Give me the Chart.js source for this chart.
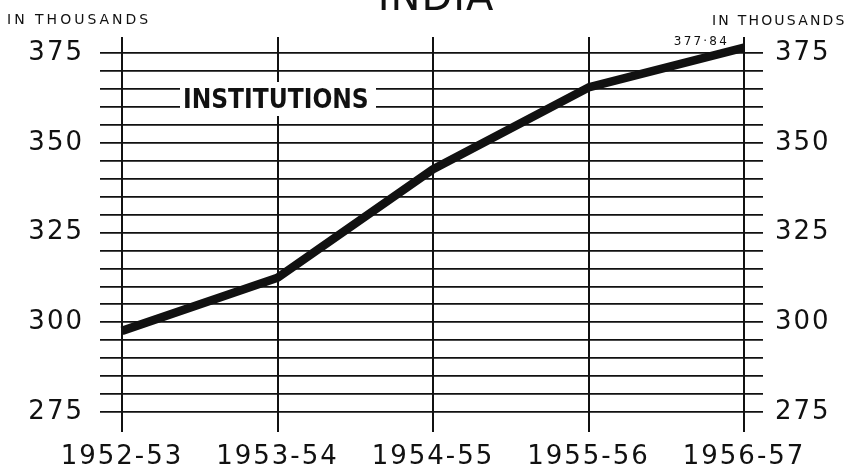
<!DOCTYPE html>
<html>
<head>
<meta charset="utf-8">
<title>India - Institutions</title>
<script src="https://cdn.jsdelivr.net/npm/chart.js@4.4.1/dist/chart.umd.min.js"></script>
<style>
  html, body { margin: 0; padding: 0; background: #fff; }
  #wrap { width: 854px; height: 467px; position: relative; }
</style>
</head>
<body>
<div id="wrap"><canvas id="chart"></canvas></div>
<script>
// years and number of institutions (in thousands)
const periods = ['1952-53', '1953-54', '1954-55', '1955-56', '1956-57'];
const institutions = [297.6, 312.4, 342.6, 365.4, 376.5];
const yMin = 275;
const yMax = 375;
const yStep = 5;
const yLabelStep = 25;
const lastValueLabel = '377·84';

const ink = '#111';
const tickFont = { family: 'DejaVu Sans', size: 26 };

const decor = {
    id: 'decor',
    beforeDraw(chart) {
        // the printed tick labels are letter spaced
        chart.ctx.letterSpacing = '2px';
    },
    beforeDatasetsDraw(chart) {
        const ctx = chart.ctx;
        const xs = chart.scales.x;
        const area = chart.chartArea;
        ctx.save();

        // vertical rules, running past the grid at top and bottom
        ctx.strokeStyle = ink;
        ctx.lineWidth = 2;
        periods.forEach(function(p, i) {
            const x = Math.round(xs.getPixelForValue(i));
            ctx.beginPath();
            ctx.moveTo(x, area.top - 16);
            ctx.lineTo(x, area.bottom + 20);
            ctx.stroke();
        });

        // series name on a white patch
        ctx.fillStyle = '#fff';
        ctx.fillRect(180, 82, 196, 34);
        ctx.fillStyle = ink;
        ctx.letterSpacing = '0px';
        ctx.font = 'bold 26px "Liberation Sans Narrow", "DejaVu Sans Condensed", sans-serif';
        ctx.textAlign = 'left';
        ctx.textBaseline = 'alphabetic';
        ctx.fillText('INSTITUTIONS', 183, 108);

        // title, cut off at the top of the sheet
        ctx.letterSpacing = '1px';
        ctx.font = '40px "DejaVu Sans", sans-serif';
        ctx.textAlign = 'center';
        ctx.fillText('INDIA', 436, 10);

        // unit captions
        ctx.font = '14px "DejaVu Sans", sans-serif';
        ctx.textAlign = 'left';
        ctx.letterSpacing = '3px';
        ctx.fillText('IN THOUSANDS', 7, 24);
        ctx.letterSpacing = '2.2px';
        ctx.fillText('IN THOUSANDS', 712, 25);

        // value of the last point
        ctx.font = '12px "DejaVu Sans", sans-serif';
        ctx.letterSpacing = '2.2px';
        ctx.textAlign = 'right';
        ctx.fillText(lastValueLabel, 729, 45);

        ctx.restore();
    }
};

function yTickLabel(v) {
    return v % yLabelStep === 0 ? String(v) : '';
}

const ctx = document.getElementById('chart').getContext('2d');
new Chart(ctx, {
    type: 'line',
    data: {
        datasets: [{
            data: institutions.map(function(v, i) { return { x: i, y: v }; }),
            borderColor: ink,
            borderWidth: 8.5,
            borderCapStyle: 'butt',
            borderJoinStyle: 'round',
            pointRadius: 0,
            tension: 0,
            clip: false
        }]
    },
    options: {
        responsive: true,
        maintainAspectRatio: false,
        animation: false,
        layout: { padding: { top: 53, left: 0, right: 0, bottom: 0 } },
        plugins: {
            legend: { display: false },
            tooltip: { enabled: false }
        },
        scales: {
            x: {
                type: 'linear',
                min: -0.1415,
                max: 4.122,
                afterBuildTicks: function(scale) {
                    scale.ticks = periods.map(function(p, i) { return { value: i }; });
                },
                afterFit: function(scale) { scale.height = 55; },
                grid: { display: false, drawTicks: false, tickLength: 0 },
                border: { display: false },
                ticks: {
                    autoSkip: false,
                    maxRotation: 0,
                    padding: 30,
                    color: ink,
                    font: tickFont,
                    callback: function(v) { return periods[v]; }
                }
            },
            y: {
                position: 'left',
                min: yMin,
                max: yMax,
                afterFit: function(scale) { scale.width = 100; },
                grid: { color: ink, lineWidth: 1.7, drawTicks: false, tickLength: 0 },
                border: { display: false },
                ticks: {
                    stepSize: yStep,
                    autoSkip: false,
                    padding: 16,
                    color: ink,
                    font: tickFont,
                    callback: yTickLabel
                }
            },
            y2: {
                position: 'right',
                min: yMin,
                max: yMax,
                afterFit: function(scale) { scale.width = 91; },
                grid: { display: false, drawTicks: false, tickLength: 0 },
                border: { display: false },
                ticks: {
                    stepSize: yStep,
                    autoSkip: false,
                    padding: 12,
                    color: ink,
                    font: tickFont,
                    callback: yTickLabel
                }
            }
        }
    },
    plugins: [decor]
});
</script>
</body>
</html>
